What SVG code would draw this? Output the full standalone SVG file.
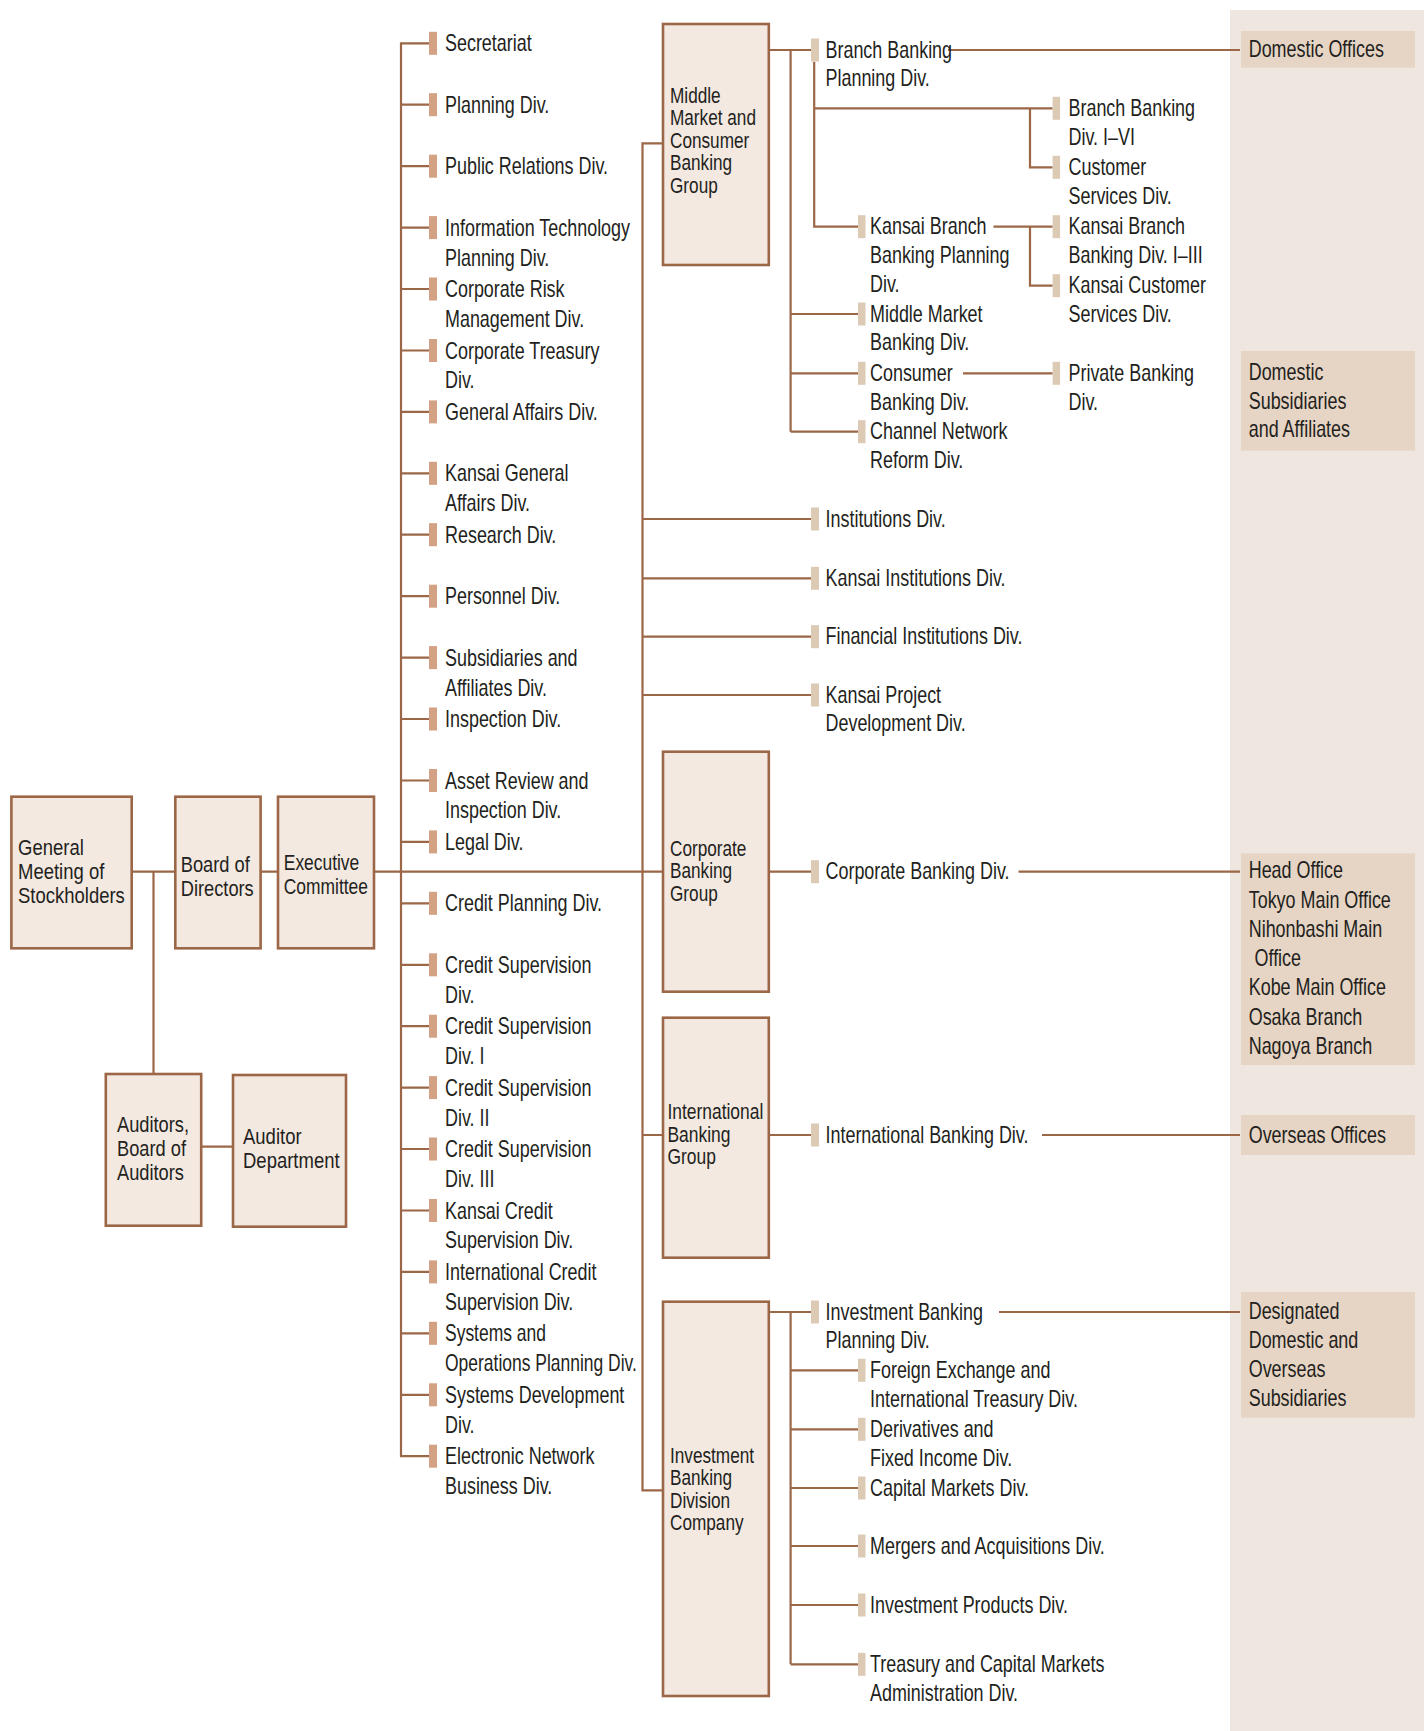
<svg xmlns="http://www.w3.org/2000/svg" width="1424" height="1731" viewBox="0 0 1424 1731">
<style>
.ln{stroke:#9c6746;stroke-width:2.2;fill:none}
.box{fill:#f3e9e0;stroke:#9c6746;stroke-width:2.6}
.bl{fill:#d3a183}
.br{fill:#dccab5}
.lab{fill:#e6d4c4}
.t{font-family:"Liberation Sans",Arial,sans-serif;font-size:23px;fill:#231f20}
.b{font-family:"Liberation Sans",Arial,sans-serif;font-size:21.5px;fill:#231f20}
</style>
<rect x="1230" y="10" width="194" height="1721" fill="#efe6df"/>
<g id="connectors">
<path class="ln" d="M131.7,871.7H175.3M260.6,871.7H278M153.5,871.7V1074M201.2,1146.7H233M374,871.7H663"/>
<path class="ln" d="M429,43.3H401V1456.2H429M401,104.7H429M401,166.2H429M401,227.6H429M401,289H429M401,350.5H429M401,411.9H429M401,473.3H429M401,534.7H429M401,596.2H429M401,657.6H429M401,719H429M401,780.5H429M401,841.9H429M401,903.3H429M401,964.8H429M401,1026.2H429M401,1087.6H429M401,1149H429M401,1210.5H429M401,1271.9H429M401,1333.3H429M401,1394.8H429"/>
<path class="ln" d="M663,143.3H642.5V1490.3H663M642.5,1135H663M642.5,519H811M642.5,578.3H811M642.5,636.7H811M642.5,695H811"/>
<path class="ln" d="M768.8,50H811M790.6,50V431.7M790.6,314H858M790.6,373.3H858M790.6,431.7H858M814.2,61.7V226.7H858M814.2,108.3H1052.6M1030,108.3V167.3H1052.6M993.5,226.7H1052.6M1030,226.7V285.7H1052.6M963,373.3H1052.6M948,50H1240"/>
<path class="ln" d="M768.8,871.7H811M1018.5,871.7H1240M768.8,1135H811M1042,1135H1240M768.8,1312H811M999,1312H1240M790.6,1312V1664.3M790.6,1370.3H858M790.6,1429.3H858M790.6,1488H858M790.6,1546H858M790.6,1605H858M790.6,1664.3H858"/>
</g>
<g id="general-meeting"><rect class="box" x="11.4" y="796.7" width="120.3" height="151.6"/><text class="b" transform="translate(18 855) scale(0.86 1)"><tspan x="0" y="0">General</tspan><tspan x="0" y="24">Meeting of</tspan><tspan x="0" y="48">Stockholders</tspan></text></g>
<g id="board"><rect class="box" x="175.3" y="796.7" width="85.3" height="151.6"/><text class="b" transform="translate(180.7 871.7) scale(0.85 1)"><tspan x="0" y="0">Board of</tspan><tspan x="0" y="24">Directors</tspan></text></g>
<g id="executive"><rect class="box" x="278" y="796.7" width="96" height="151.6"/><text class="b" transform="translate(283.8 870) scale(0.81 1)"><tspan x="0" y="0">Executive</tspan><tspan x="0" y="24">Committee</tspan></text></g>
<g id="auditors"><rect class="box" x="105.8" y="1074" width="95.4" height="151.7"/><text class="b" transform="translate(117 1131.7) scale(0.85 1)"><tspan x="0" y="0">Auditors,</tspan><tspan x="0" y="24">Board of</tspan><tspan x="0" y="48">Auditors</tspan></text></g>
<g id="auditor-dept"><rect class="box" x="233" y="1075" width="113" height="151.7"/><text class="b" transform="translate(243 1144) scale(0.86 1)"><tspan x="0" y="0">Auditor</tspan><tspan x="0" y="24">Department</tspan></text></g>
<g id="mm-group"><rect class="box" x="663" y="24" width="105.8" height="241"/><text class="b" transform="translate(670 102.7) scale(0.8 1)"><tspan x="0" y="0">Middle</tspan><tspan x="0" y="22.5">Market and</tspan><tspan x="0" y="45">Consumer</tspan><tspan x="0" y="67.5">Banking</tspan><tspan x="0" y="90">Group</tspan></text></g>
<g id="corp-group"><rect class="box" x="663" y="751.7" width="105.8" height="240"/><text class="b" transform="translate(670 856) scale(0.8 1)"><tspan x="0" y="0">Corporate</tspan><tspan x="0" y="22.5">Banking</tspan><tspan x="0" y="45">Group</tspan></text></g>
<g id="intl-group"><rect class="box" x="663" y="1017.7" width="105.8" height="240"/><text class="b" transform="translate(667.5 1119.3) scale(0.81 1)"><tspan x="0" y="0">International</tspan><tspan x="0" y="22.5">Banking</tspan><tspan x="0" y="45">Group</tspan></text></g>
<g id="inv-company"><rect class="box" x="663" y="1301.7" width="105.8" height="394.3"/><text class="b" transform="translate(670 1462.7) scale(0.8 1)"><tspan x="0" y="0">Investment</tspan><tspan x="0" y="22.5">Banking</tspan><tspan x="0" y="45">Division</tspan><tspan x="0" y="67.5">Company</tspan></text></g>
<g id="staff-divisions">
<g id="d-secretariat"><rect class="bl" x="429" y="31.8" width="8" height="23"/><text class="t" transform="translate(445 51.3) scale(0.78 1)">Secretariat</text></g>
<g id="d-planning"><rect class="bl" x="429" y="93.2" width="8" height="23"/><text class="t" transform="translate(445 112.7) scale(0.78 1)">Planning Div.</text></g>
<g id="d-pr"><rect class="bl" x="429" y="154.7" width="8" height="23"/><text class="t" transform="translate(445 174.2) scale(0.78 1)">Public Relations Div.</text></g>
<g id="d-it"><rect class="bl" x="429" y="216.1" width="8" height="23"/><text class="t" transform="translate(445 235.6) scale(0.78 1)"><tspan x="0" y="0">Information Technology</tspan><tspan x="0" y="30">Planning Div.</tspan></text></g>
<g id="d-risk"><rect class="bl" x="429" y="277.5" width="8" height="23"/><text class="t" transform="translate(445 297) scale(0.78 1)"><tspan x="0" y="0">Corporate Risk</tspan><tspan x="0" y="30">Management Div.</tspan></text></g>
<g id="d-treasury"><rect class="bl" x="429" y="339" width="8" height="23"/><text class="t" transform="translate(445 358.5) scale(0.78 1)"><tspan x="0" y="0">Corporate Treasury</tspan><tspan x="0" y="30">Div.</tspan></text></g>
<g id="d-ga"><rect class="bl" x="429" y="400.4" width="8" height="23"/><text class="t" transform="translate(445 419.9) scale(0.78 1)">General Affairs Div.</text></g>
<g id="d-kga"><rect class="bl" x="429" y="461.8" width="8" height="23"/><text class="t" transform="translate(445 481.3) scale(0.78 1)"><tspan x="0" y="0">Kansai General</tspan><tspan x="0" y="30">Affairs Div.</tspan></text></g>
<g id="d-research"><rect class="bl" x="429" y="523.2" width="8" height="23"/><text class="t" transform="translate(445 542.7) scale(0.78 1)">Research Div.</text></g>
<g id="d-personnel"><rect class="bl" x="429" y="584.7" width="8" height="23"/><text class="t" transform="translate(445 604.2) scale(0.78 1)">Personnel Div.</text></g>
<g id="d-subs"><rect class="bl" x="429" y="646.1" width="8" height="23"/><text class="t" transform="translate(445 665.6) scale(0.78 1)"><tspan x="0" y="0">Subsidiaries and</tspan><tspan x="0" y="30">Affiliates Div.</tspan></text></g>
<g id="d-inspection"><rect class="bl" x="429" y="707.5" width="8" height="23"/><text class="t" transform="translate(445 727) scale(0.78 1)">Inspection Div.</text></g>
<g id="d-asset"><rect class="bl" x="429" y="769" width="8" height="23"/><text class="t" transform="translate(445 788.5) scale(0.78 1)"><tspan x="0" y="0">Asset Review and</tspan><tspan x="0" y="30">Inspection Div.</tspan></text></g>
<g id="d-legal"><rect class="bl" x="429" y="830.4" width="8" height="23"/><text class="t" transform="translate(445 849.9) scale(0.78 1)">Legal Div.</text></g>
<g id="d-creditplan"><rect class="bl" x="429" y="891.8" width="8" height="23"/><text class="t" transform="translate(445 911.3) scale(0.78 1)">Credit Planning Div.</text></g>
<g id="d-cs"><rect class="bl" x="429" y="953.3" width="8" height="23"/><text class="t" transform="translate(445 972.8) scale(0.78 1)"><tspan x="0" y="0">Credit Supervision</tspan><tspan x="0" y="30">Div.</tspan></text></g>
<g id="d-cs1"><rect class="bl" x="429" y="1014.7" width="8" height="23"/><text class="t" transform="translate(445 1034.2) scale(0.78 1)"><tspan x="0" y="0">Credit Supervision</tspan><tspan x="0" y="30">Div. I</tspan></text></g>
<g id="d-cs2"><rect class="bl" x="429" y="1076.1" width="8" height="23"/><text class="t" transform="translate(445 1095.6) scale(0.78 1)"><tspan x="0" y="0">Credit Supervision</tspan><tspan x="0" y="30">Div. II</tspan></text></g>
<g id="d-cs3"><rect class="bl" x="429" y="1137.5" width="8" height="23"/><text class="t" transform="translate(445 1157) scale(0.78 1)"><tspan x="0" y="0">Credit Supervision</tspan><tspan x="0" y="30">Div. III</tspan></text></g>
<g id="d-kcs"><rect class="bl" x="429" y="1199" width="8" height="23"/><text class="t" transform="translate(445 1218.5) scale(0.78 1)"><tspan x="0" y="0">Kansai Credit</tspan><tspan x="0" y="30">Supervision Div.</tspan></text></g>
<g id="d-ics"><rect class="bl" x="429" y="1260.4" width="8" height="23"/><text class="t" transform="translate(445 1279.9) scale(0.78 1)"><tspan x="0" y="0">International Credit</tspan><tspan x="0" y="30">Supervision Div.</tspan></text></g>
<g id="d-sysops"><rect class="bl" x="429" y="1321.8" width="8" height="23"/><text class="t" transform="translate(445 1341.3) scale(0.76 1)"><tspan x="0" y="0">Systems and</tspan><tspan x="0" y="30">Operations Planning Div.</tspan></text></g>
<g id="d-sysdev"><rect class="bl" x="429" y="1383.3" width="8" height="23"/><text class="t" transform="translate(445 1402.8) scale(0.78 1)"><tspan x="0" y="0">Systems Development</tspan><tspan x="0" y="30">Div.</tspan></text></g>
<g id="d-enb"><rect class="bl" x="429" y="1444.7" width="8" height="23"/><text class="t" transform="translate(445 1464.2) scale(0.78 1)"><tspan x="0" y="0">Electronic Network</tspan><tspan x="0" y="30">Business Div.</tspan></text></g>
</g>
<g id="line-divisions">
<g id="r-bbp"><rect class="br" x="811" y="38.5" width="8" height="23"/><text class="t" transform="translate(825.5 57.7) scale(0.78 1)"><tspan x="0" y="0">Branch Banking</tspan><tspan x="0" y="28.8">Planning Div.</tspan></text></g>
<g id="r-bb16"><rect class="br" x="1052.6" y="96.8" width="7.5" height="23"/><text class="t" transform="translate(1068.5 116) scale(0.78 1)"><tspan x="0" y="0">Branch Banking</tspan><tspan x="0" y="28.8">Div. I–VI</tspan></text></g>
<g id="r-cust"><rect class="br" x="1052.6" y="155.8" width="7.5" height="23"/><text class="t" transform="translate(1068.5 175) scale(0.78 1)"><tspan x="0" y="0">Customer</tspan><tspan x="0" y="28.8">Services Div.</tspan></text></g>
<g id="r-kbp"><rect class="br" x="858" y="215.2" width="7.5" height="23"/><text class="t" transform="translate(870 234.2) scale(0.78 1)"><tspan x="0" y="0">Kansai Branch</tspan><tspan x="0" y="28.8">Banking Planning</tspan><tspan x="0" y="57.6">Div.</tspan></text></g>
<g id="r-kb13"><rect class="br" x="1052.6" y="215.2" width="7.5" height="23"/><text class="t" transform="translate(1068.5 234.4) scale(0.78 1)"><tspan x="0" y="0">Kansai Branch</tspan><tspan x="0" y="28.8">Banking Div. I–III</tspan></text></g>
<g id="r-kcust"><rect class="br" x="1052.6" y="274.2" width="7.5" height="23"/><text class="t" transform="translate(1068.5 293.4) scale(0.78 1)"><tspan x="0" y="0">Kansai Customer</tspan><tspan x="0" y="28.8">Services Div.</tspan></text></g>
<g id="r-mmb"><rect class="br" x="858" y="302.5" width="7.5" height="23"/><text class="t" transform="translate(870 321.7) scale(0.78 1)"><tspan x="0" y="0">Middle Market</tspan><tspan x="0" y="28.8">Banking Div.</tspan></text></g>
<g id="r-cb"><rect class="br" x="858" y="361.8" width="7.5" height="23"/><text class="t" transform="translate(870 381) scale(0.78 1)"><tspan x="0" y="0">Consumer</tspan><tspan x="0" y="28.8">Banking Div.</tspan></text></g>
<g id="r-pb"><rect class="br" x="1052.6" y="361.8" width="7.5" height="23"/><text class="t" transform="translate(1068.5 381) scale(0.78 1)"><tspan x="0" y="0">Private Banking</tspan><tspan x="0" y="28.8">Div.</tspan></text></g>
<g id="r-cn"><rect class="br" x="858" y="420.2" width="7.5" height="23"/><text class="t" transform="translate(870 439.4) scale(0.78 1)"><tspan x="0" y="0">Channel Network</tspan><tspan x="0" y="28.8">Reform Div.</tspan></text></g>
<g id="r-inst"><rect class="br" x="811" y="507.5" width="8" height="23"/><text class="t" transform="translate(825.5 526.7) scale(0.78 1)">Institutions Div.</text></g>
<g id="r-kinst"><rect class="br" x="811" y="566.8" width="8" height="23"/><text class="t" transform="translate(825.5 586) scale(0.78 1)">Kansai Institutions Div.</text></g>
<g id="r-finst"><rect class="br" x="811" y="625.2" width="8" height="23"/><text class="t" transform="translate(825.5 644.4) scale(0.78 1)">Financial Institutions Div.</text></g>
<g id="r-kpd"><rect class="br" x="811" y="683.5" width="8" height="23"/><text class="t" transform="translate(825.5 702.7) scale(0.78 1)"><tspan x="0" y="0">Kansai Project</tspan><tspan x="0" y="28.8">Development Div.</tspan></text></g>
<g id="r-corp"><rect class="br" x="811" y="860.2" width="8" height="23"/><text class="t" transform="translate(825.5 879.4) scale(0.78 1)">Corporate Banking Div.</text></g>
<g id="r-intl"><rect class="br" x="811" y="1123.5" width="8" height="23"/><text class="t" transform="translate(825.5 1142.7) scale(0.78 1)">International Banking Div.</text></g>
<g id="r-ibp"><rect class="br" x="811" y="1300.5" width="8" height="23"/><text class="t" transform="translate(825.5 1319.7) scale(0.78 1)"><tspan x="0" y="0">Investment Banking</tspan><tspan x="0" y="28.8">Planning Div.</tspan></text></g>
<g id="r-fx"><rect class="br" x="858" y="1358.8" width="7.5" height="23"/><text class="t" transform="translate(870 1378) scale(0.78 1)"><tspan x="0" y="0">Foreign Exchange and</tspan><tspan x="0" y="28.8">International Treasury Div.</tspan></text></g>
<g id="r-deriv"><rect class="br" x="858" y="1417.8" width="7.5" height="23"/><text class="t" transform="translate(870 1437) scale(0.78 1)"><tspan x="0" y="0">Derivatives and</tspan><tspan x="0" y="28.8">Fixed Income Div.</tspan></text></g>
<g id="r-cm"><rect class="br" x="858" y="1476.5" width="7.5" height="23"/><text class="t" transform="translate(870 1495.7) scale(0.78 1)">Capital Markets Div.</text></g>
<g id="r-ma"><rect class="br" x="858" y="1534.5" width="7.5" height="23"/><text class="t" transform="translate(870 1553.7) scale(0.78 1)">Mergers and Acquisitions Div.</text></g>
<g id="r-ip"><rect class="br" x="858" y="1593.5" width="7.5" height="23"/><text class="t" transform="translate(870 1612.7) scale(0.78 1)">Investment Products Div.</text></g>
<g id="r-tcm"><rect class="br" x="858" y="1652.8" width="7.5" height="23"/><text class="t" transform="translate(870 1672) scale(0.78 1)"><tspan x="0" y="0">Treasury and Capital Markets</tspan><tspan x="0" y="28.8">Administration Div.</tspan></text></g>
</g>
<g id="affiliates">
<g id="l-domoff"><rect class="lab" x="1241" y="31" width="174" height="36.7"/><text class="t" transform="translate(1248.7 56.7) scale(0.78 1)">Domestic Offices</text></g>
<g id="l-domsub"><rect class="lab" x="1241" y="351" width="174" height="99.7"/><text class="t" transform="translate(1248.7 380) scale(0.78 1)"><tspan x="0" y="0">Domestic</tspan><tspan x="0" y="28.7">Subsidiaries</tspan><tspan x="0" y="57.4">and Affiliates</tspan></text></g>
<g id="l-head"><rect class="lab" x="1241" y="853.3" width="174" height="211.7"/><text class="t" transform="translate(1248.7 878.3) scale(0.78 1)"><tspan x="0" y="0">Head Office</tspan><tspan x="0" y="29.3">Tokyo Main Office</tspan><tspan x="0" y="58.6">Nihonbashi Main</tspan><tspan x="7.5" y="87.9">Office</tspan><tspan x="0" y="117.2">Kobe Main Office</tspan><tspan x="0" y="146.5">Osaka Branch</tspan><tspan x="0" y="175.8">Nagoya Branch</tspan></text></g>
<g id="l-overseas"><rect class="lab" x="1241" y="1115" width="174" height="40"/><text class="t" transform="translate(1248.7 1142.7) scale(0.78 1)">Overseas Offices</text></g>
<g id="l-desig"><rect class="lab" x="1241" y="1292" width="174" height="125.7"/><text class="t" transform="translate(1248.7 1319.3) scale(0.78 1)"><tspan x="0" y="0">Designated</tspan><tspan x="0" y="29">Domestic and</tspan><tspan x="0" y="58">Overseas</tspan><tspan x="0" y="87">Subsidiaries</tspan></text></g>
</g>
</svg>
